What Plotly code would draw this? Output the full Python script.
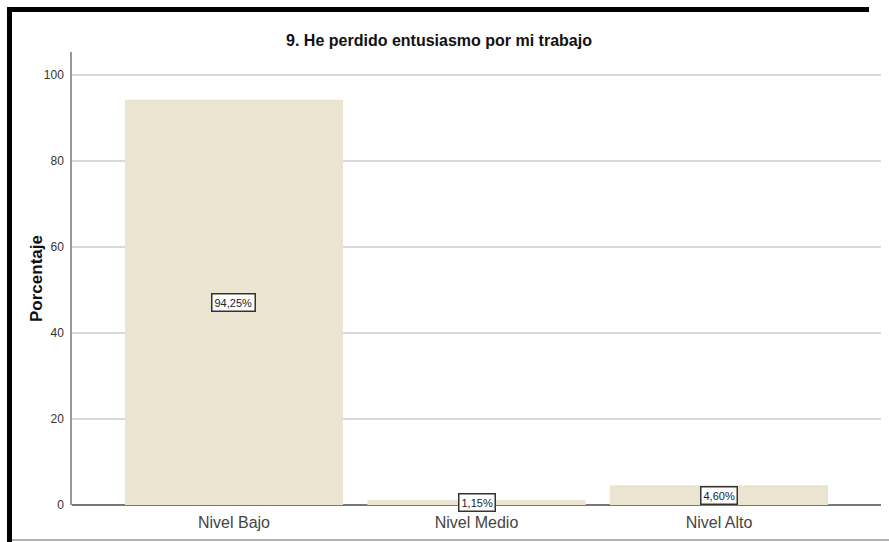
import plotly.graph_objects as go

# Chart data
categories = ["Nivel Bajo", "Nivel Medio", "Nivel Alto"]
percentages = [94.25, 1.15, 4.60]
y_ticks = [0, 20, 40, 60, 80, 100]

W, H = 889, 542
L, R, T, B = 72, 8, 52, 37
plot_w = W - L - R
plot_h = H - T - B
y_max = plot_h / 4.3

bar_color = "rgb(234,228,208)"
font_family = "Liberation Sans, Arial, sans-serif"


def px_x(px):
    return (px - L) / plot_w


def px_y(py):
    return (H - B - py) / plot_h


fig = go.Figure()
fig.add_trace(go.Bar(
    x=categories,
    y=percentages,
    width=0.9,
    marker=dict(color=bar_color, line=dict(width=0)),
    hoverinfo="skip",
))

# Boxed value labels at the middle of each bar
annotations = []
for cat, val in zip(categories, percentages):
    annotations.append(dict(
        x=cat, y=val / 2, xref="x", yref="y",
        text=f"{val:.2f}%".replace(".", ","),
        showarrow=False,
        font=dict(family=font_family, size=11, color="#222"),
        bgcolor="white", bordercolor="#333", borderwidth=1.5, borderpad=2,
    ))

# Vertical axis title
annotations.append(dict(
    x=px_x(25), y=0.5, xref="paper", yref="paper",
    text="<b>Porcentaje</b>", textangle=-90, showarrow=False,
    font=dict(family=font_family, size=17, color="#111"),
))

# Frame around the chart area (top and left black bands, thin grey bottom rule)
shapes = [
    dict(type="rect", xref="paper", yref="paper",
         x0=px_x(7), x1=px_x(W - 20), y0=px_y(12), y1=px_y(7),
         fillcolor="black", line=dict(width=0), layer="above"),
    dict(type="rect", xref="paper", yref="paper",
         x0=px_x(7), x1=px_x(12), y0=px_y(H), y1=px_y(7),
         fillcolor="black", line=dict(width=0), layer="above"),
    dict(type="line", xref="paper", yref="paper",
         x0=px_x(12), x1=px_x(W), y0=px_y(540), y1=px_y(540),
         line=dict(color="#999", width=1.5), layer="above"),
]

fig.update_layout(
    width=W, height=H,
    margin=dict(l=L, r=R, t=T, b=B, pad=0),
    paper_bgcolor="white", plot_bgcolor="white",
    showlegend=False,
    bargap=0.1,
    title=dict(
        text="<b>9. He perdido entusiasmo por mi trabajo</b>",
        x=439 / W, xanchor="center",
        y=1 - 40 / H, yanchor="middle", yref="container",
        font=dict(family=font_family, size=16, color="#111"),
    ),
    xaxis=dict(
        range=[-0.668, 2.668],
        showgrid=False, zeroline=False,
        showline=False,
        ticks="", ticklabelstandoff=6,
        tickfont=dict(family=font_family, size=16, color="#444"),
        fixedrange=True,
    ),
    yaxis=dict(
        range=[0, y_max],
        tickvals=y_ticks,
        ticktext=[str(v) for v in y_ticks],
        showgrid=True, gridcolor="#d9d9d9", gridwidth=1.5,
        zeroline=True, zerolinecolor="#777", zerolinewidth=1.5,
        showline=True, linecolor="#999", linewidth=1.5,
        ticks="", ticklabelstandoff=4,
        tickfont=dict(family=font_family, size=12, color="#333"),
        fixedrange=True,
    ),
    annotations=annotations,
    shapes=shapes,
)

fig.write_html("out.html")
